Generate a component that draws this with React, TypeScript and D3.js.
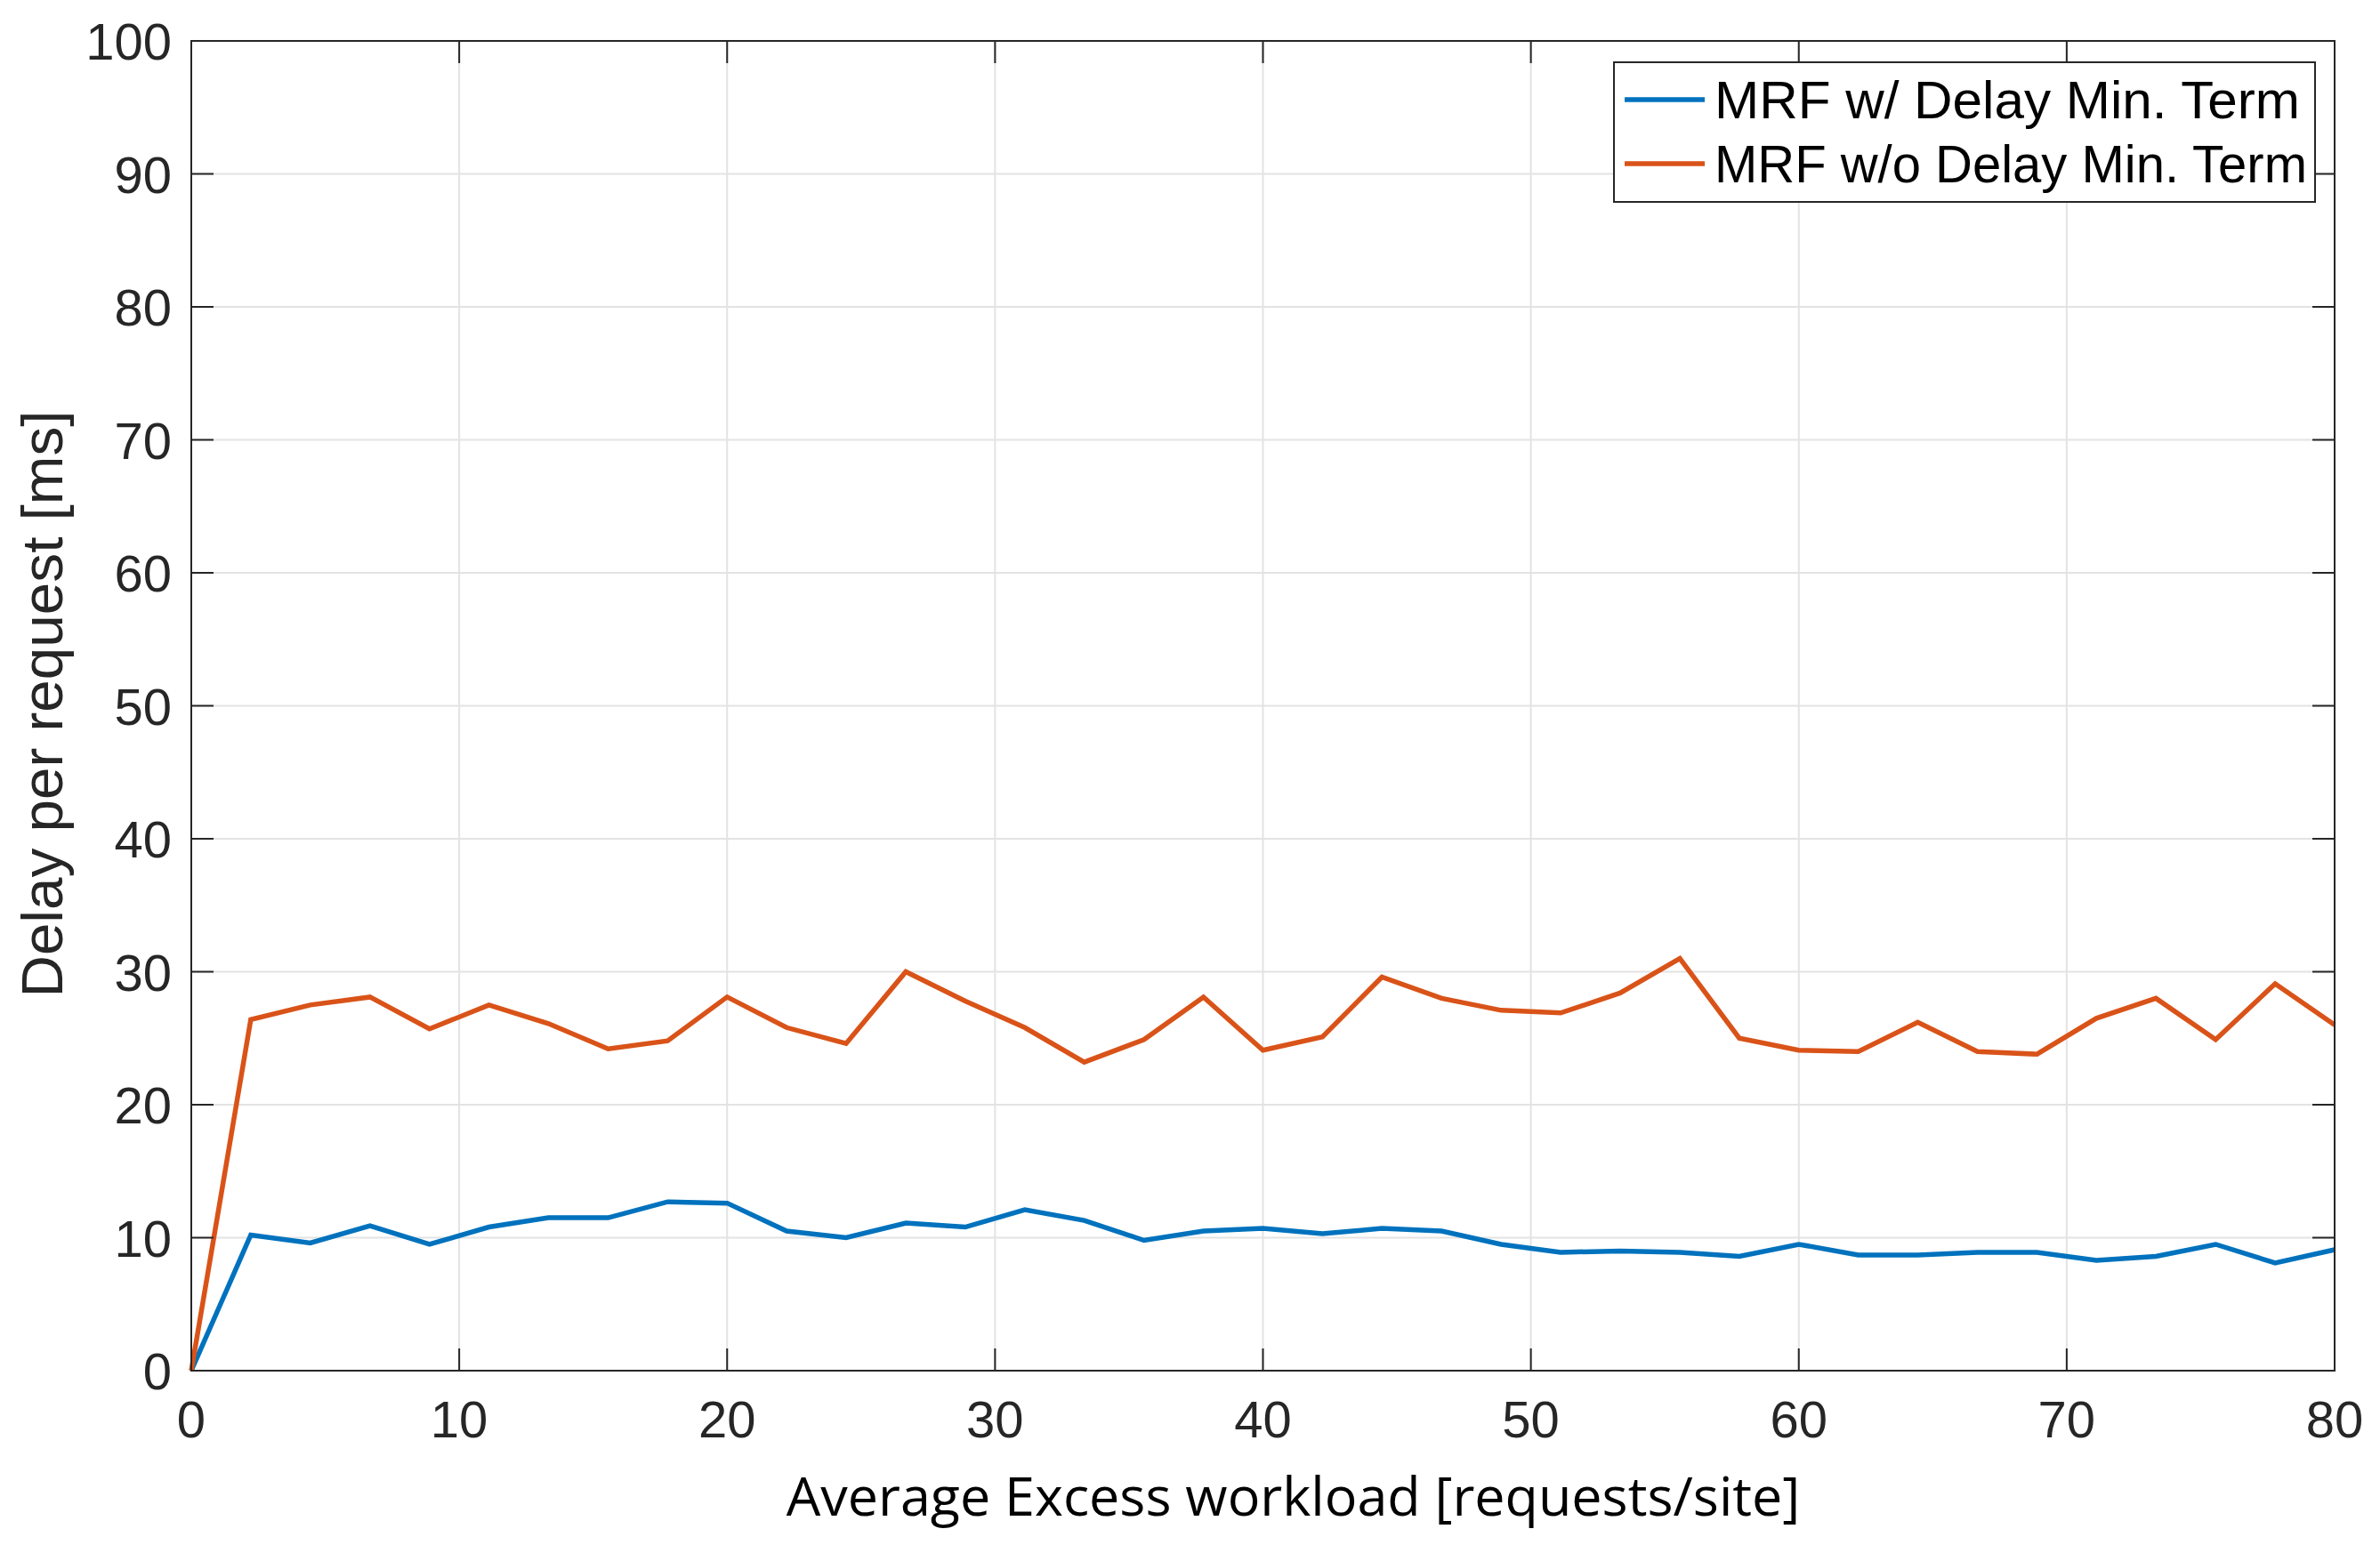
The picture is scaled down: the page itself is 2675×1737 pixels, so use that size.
import React, { useEffect, useRef } from 'react';
import * as d3 from 'd3';

// workload levels (x) and delay values
const workload: number[] = [
  0, 2.22, 4.44, 6.67, 8.89, 11.11, 13.33, 15.56, 17.78, 20,
  22.22, 24.44, 26.67, 28.89, 31.11, 33.33, 35.56, 37.78, 40,
  42.22, 44.44, 46.67, 48.89, 51.11, 53.33, 55.56, 57.78, 60,
  62.22, 64.44, 66.67, 68.89, 71.11, 73.33, 75.56, 77.78, 80,
];

const withDelayTerm: number[] = [
  0, 10.2, 9.6, 10.9, 9.5, 10.8, 11.5, 11.5, 12.7, 12.6,
  10.5, 10.0, 11.1, 10.8, 12.1, 11.3, 9.8, 10.5, 10.7,
  10.3, 10.7, 10.5, 9.5, 8.9, 9.0, 8.9, 8.6, 9.5,
  8.7, 8.7, 8.9, 8.9, 8.3, 8.6, 9.5, 8.1, 9.1,
];

const withoutDelayTerm: number[] = [
  0, 26.4, 27.5, 28.1, 25.7, 27.5, 26.1, 24.2, 24.8, 28.1,
  25.8, 24.6, 30.0, 27.8, 25.8, 23.2, 24.9, 28.1, 24.1,
  25.1, 29.6, 28.0, 27.1, 26.9, 28.4, 31.0, 25.0, 24.1,
  24.0, 26.2, 24.0, 23.8, 26.5, 28.0, 24.9, 29.1, 26.0,
];

const xTicks: number[] = [0, 10, 20, 30, 40, 50, 60, 70, 80];
const yTicks: number[] = [0, 10, 20, 30, 40, 50, 60, 70, 80, 90, 100];

const seriesNames: string[] = ['MRF w/ Delay Min. Term', 'MRF w/o Delay Min. Term'];
const seriesColors: string[] = ['#0072BD', '#D95319'];

const App: React.FC = () => {
  const svgRef = useRef<SVGSVGElement | null>(null);

  useEffect(() => {
    const width = 2675;
    const height = 1737;
    const margin = { top: 46, right: 51, bottom: 196, left: 215 };
    const axisColor = '#262626';
    const tickFont = '"Liberation Sans", Arial, Helvetica, sans-serif';

    const svg = d3.select(svgRef.current)
      .attr('width', width)
      .attr('height', height);

    svg.selectAll('*').remove();

    const x = d3.scaleLinear()
      .domain([0, 80])
      .range([margin.left, width - margin.right]);

    const y = d3.scaleLinear()
      .domain([0, 100])
      .range([height - margin.bottom, margin.top]);

    const [x0, x1] = x.range();
    const [y0, y1] = y.range();

    svg.append('rect')
      .attr('width', width)
      .attr('height', height)
      .attr('fill', '#fff');

    // grid
    const grid = svg.append('g');
    grid.selectAll('.vgrid')
      .data(xTicks.slice(1, -1))
      .enter()
      .append('line')
      .attr('x1', d => x(d)).attr('x2', d => x(d))
      .attr('y1', y1).attr('y2', y0)
      .attr('stroke', '#e3e3e3')
      .attr('stroke-width', 2);
    grid.selectAll('.hgrid')
      .data(yTicks.slice(1, -1))
      .enter()
      .append('line')
      .attr('x1', x0).attr('x2', x1)
      .attr('y1', d => y(d)).attr('y2', d => y(d))
      .attr('stroke', '#e3e3e3')
      .attr('stroke-width', 2);

    // lines
    const series = [withDelayTerm, withoutDelayTerm];
    series.forEach((values, k) => {
      const line = d3.line<number>()
        .x((_, i) => x(workload[i]))
        .y(d => y(d));
      svg.append('path')
        .datum(values)
        .attr('d', line)
        .attr('fill', 'none')
        .attr('stroke', seriesColors[k])
        .attr('stroke-width', 5.5)
        .attr('stroke-linejoin', 'miter');
    });

    // box
    svg.append('rect')
      .attr('x', x0).attr('y', y1)
      .attr('width', x1 - x0).attr('height', y0 - y1)
      .attr('fill', 'none')
      .attr('stroke', axisColor)
      .attr('stroke-width', 2);

    // inward ticks on all four sides
    const tickLen = 25;
    const ticks = svg.append('g').attr('stroke', axisColor).attr('stroke-width', 2);
    xTicks.forEach(t => {
      ticks.append('line').attr('x1', x(t)).attr('x2', x(t)).attr('y1', y0).attr('y2', y0 - tickLen);
      ticks.append('line').attr('x1', x(t)).attr('x2', x(t)).attr('y1', y1).attr('y2', y1 + tickLen);
    });
    yTicks.forEach(t => {
      ticks.append('line').attr('x1', x0).attr('x2', x0 + tickLen).attr('y1', y(t)).attr('y2', y(t));
      ticks.append('line').attr('x1', x1).attr('x2', x1 - tickLen).attr('y1', y(t)).attr('y2', y(t));
    });

    // tick labels
    svg.selectAll('.xlabel')
      .data(xTicks)
      .enter()
      .append('text')
      .attr('x', d => x(d))
      .attr('y', y0 + 75)
      .attr('text-anchor', 'middle')
      .attr('font-family', tickFont)
      .attr('font-size', 58)
      .attr('fill', axisColor)
      .text(d => d);

    svg.selectAll('.ylabel')
      .data(yTicks)
      .enter()
      .append('text')
      .attr('x', x0 - 22)
      .attr('y', d => y(d) + 21)
      .attr('text-anchor', 'end')
      .attr('font-family', tickFont)
      .attr('font-size', 58)
      .attr('fill', axisColor)
      .text(d => d);

    // axis titles
    svg.append('text')
      .attr('x', (x0 + x1) / 2 + 34)
      .attr('y', 1704)
      .attr('text-anchor', 'middle')
      .attr('font-family', '"Open Sans", sans-serif')
      .attr('font-size', 61)
      .attr('fill', '#000')
      .text('Average Excess workload [requests/site]');

    svg.append('text')
      .attr('transform', `translate(70, ${(y0 + y1) / 2 - 2}) rotate(-90)`)
      .attr('text-anchor', 'middle')
      .attr('font-family', tickFont)
      .attr('font-size', 64)
      .attr('fill', axisColor)
      .attr('textLength', 660)
      .attr('lengthAdjust', 'spacingAndGlyphs')
      .text('Delay per request [ms]');

    // legend
    const legend = svg.append('g');
    legend.append('rect')
      .attr('x', 1814).attr('y', 70)
      .attr('width', 788).attr('height', 157)
      .attr('fill', '#fff')
      .attr('stroke', axisColor)
      .attr('stroke-width', 2);

    const rowY = [112, 184];
    const textWidths = [658, 666];
    seriesNames.forEach((name, k) => {
      legend.append('line')
        .attr('x1', 1826).attr('x2', 1916)
        .attr('y1', rowY[k]).attr('y2', rowY[k])
        .attr('stroke', seriesColors[k])
        .attr('stroke-width', 5.5);
      legend.append('text')
        .attr('x', 1927)
        .attr('y', rowY[k] + 21)
        .attr('font-family', tickFont)
        .attr('font-size', 60)
        .attr('fill', '#000')
        .attr('textLength', textWidths[k])
        .attr('lengthAdjust', 'spacingAndGlyphs')
        .text(name);
    });
  }, []);

  return <svg ref={svgRef} style={{ position: 'absolute', left: 0, top: 0 }}></svg>;
};

export default App;
